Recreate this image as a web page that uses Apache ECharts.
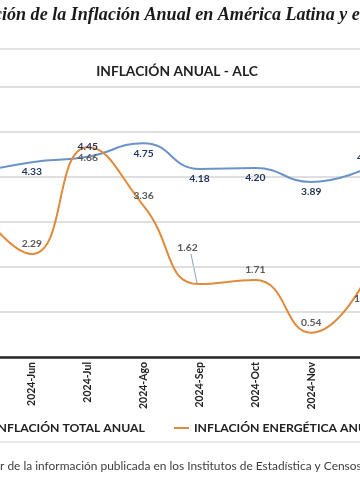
<!DOCTYPE html>
<html><head><meta charset="utf-8">
<script src="https://cdn.jsdelivr.net/npm/echarts@6/dist/echarts.min.js"></script>
<style>html,body{margin:0;padding:0;background:#fff}#c{width:360px;height:504px}</style>
</head><body><div id="c"></div>
<script>
const categories = ['2024-May','2024-Jun','2024-Jul','2024-Ago','2024-Sep','2024-Oct','2024-Nov','2024-Dic'];
const totalAnual = [4.08, 4.33, 4.45, 4.75, 4.18, 4.20, 3.89, 4.20];
const energeticaAnual = [3.40, 2.29, 4.66, 3.36, 1.62, 1.71, 0.54, 1.80];
const yTicks = [0, 1, 2, 3, 4, 5, 6];

const totalLabelPos = ['bottom','bottom','top','bottom','bottom','bottom','bottom','top'];
const energLabelPos = ['top','top','bottom','top','top','top','top','bottom'];

const ctx = document.createElement('canvas').getContext('2d');
function tw(text, font){ ctx.font = font; return ctx.measureText(text).width; }

// main title (cropped)
const titleFull = 'Evolución de la Inflación Anual en América Latina y el Caribe';
const titlePrefix = 'Evoluc';
const titleVisible = 'ión de la Inflación Anual en América Latina y e';
const tFam = '"Liberation Serif", "Times New Roman", serif';
let tfs = 18 * 358 / tw(titleVisible, 'italic bold 18px ' + tFam);
const titleLeft = 2 - tw(titlePrefix, 'italic bold ' + tfs + 'px ' + tFam);

// source (cropped)
const srcFull = 'Elaborado a partir de la información publicada en los Institutos de Estadística y Censos';
const srcPrefix = 'Elaborado a parti';
const srcVisible = 'r de la información publicada en los Institutos de Estadística y Censo';
const sFam = 'Lato, "Open Sans", sans-serif';
let sfs = 12 * 357 / tw(srcVisible, '12px ' + sFam);
const srcLeft = 0 - tw(srcPrefix, sfs + 'px ' + sFam);

// legend
const lFam = 'Lato, "Open Sans", sans-serif';
let lfs = 14 * 138 / tw('FLACIÓN TOTAL ANUAL', 'bold 14px ' + lFam);
const leg1TextX = 2 - tw('IN', 'bold ' + lfs + 'px ' + lFam);
const leg1Left = leg1TextX - 5 - 15;

const blue = '#6b93c9', orange = '#e08a3c';
const chart = echarts.init(document.getElementById('c'));
const lblFont = {fontFamily: 'Lato, sans-serif', fontWeight: 'bold', fontSize: 10.3};

chart.setOption({
  backgroundColor: '#ffffff',
  animation: false,
  title: {
    text: 'INFLACIÓN ANUAL - ALC',
    left: 172, top: 60, textAlign: 'center',
    textStyle: {fontFamily: lFam, fontWeight: 'bold', fontSize: 13.8, color: '#222'}
  },
  legend: [
    {data: [{name: 'INFLACIÓN TOTAL ANUAL', itemStyle: {color: blue, opacity: 1}}], left: leg1Left, top: 417, icon: 'rect', itemWidth: 15, itemHeight: 2,
     textStyle: {fontFamily: lFam, fontWeight: 'bold', fontSize: lfs, color: '#222'}},
    {data: [{name: 'INFLACIÓN ENERGÉTICA ANUAL', itemStyle: {color: orange, opacity: 1}}], left: 169, top: 417, icon: 'rect', itemWidth: 15, itemHeight: 2,
     textStyle: {fontFamily: lFam, fontWeight: 'bold', fontSize: lfs, color: '#222'}}
  ],
  grid: {left: -52, width: 447, top: 87, height: 270, containLabel: false, outerBoundsMode: 'none'},
  xAxis: {
    type: 'category', data: categories, boundaryGap: true,
    axisLine: {lineStyle: {color: '#262626', width: 2.5}},
    axisTick: {show: false},
    axisLabel: {rotate: 90, margin: 5, fontFamily: 'Lato, sans-serif', fontWeight: 'bold', fontSize: 10.5, color: '#222'}
  },
  yAxis: {
    type: 'value', min: yTicks[0], max: yTicks[yTicks.length - 1], interval: 1,
    axisLabel: {show: false}, axisLine: {show: false}, axisTick: {show: false},
    splitLine: {lineStyle: {color: '#d4d4d4', width: 1.5}}
  },
  series: [
    {
      name: 'INFLACIÓN TOTAL ANUAL', type: 'line', smooth: 0.5, showSymbol: true, symbol: 'circle', symbolSize: 0.01,
      data: totalAnual.map((v, i) => ({value: v, label: {position: totalLabelPos[i]}})),
      lineStyle: {color: blue, width: 2}, itemStyle: {color: blue},
      label: Object.assign({show: true, color: '#24365e', distance: 5, formatter: p => p.value.toFixed(2)}, lblFont)
    },
    {
      name: 'INFLACIÓN ENERGÉTICA ANUAL', type: 'line', smooth: 0.5, showSymbol: true, symbol: 'circle', symbolSize: 0.01,
      data: energeticaAnual.map((v, i) => {
        const d = {value: v, label: {position: energLabelPos[i]}};
        if (i === 4) d.label = {position: 'top', offset: [-12, -26]};
        if (i === 7) d.label = {position: 'bottom', offset: [-3, 13]};
        return d;
      }),
      lineStyle: {color: orange, width: 2}, itemStyle: {color: orange},
      label: Object.assign({show: true, color: '#595959', distance: 5, formatter: p => p.value.toFixed(2)}, lblFont)
    }
  ],
  graphic: [
    {type: 'text', left: titleLeft, top: 6, style: {text: titleFull, font: 'italic bold ' + tfs + 'px ' + tFam, fill: '#1a1a1a'}},
    {type: 'line', shape: {x1: 0, y1: 49, x2: 360, y2: 49}, style: {stroke: '#d9d9d9', lineWidth: 1.5}},
    {type: 'line', shape: {x1: 0, y1: 442, x2: 360, y2: 442}, style: {stroke: '#e0e0e0', lineWidth: 1.5}},
    {type: 'line', shape: {x1: 191, y1: 254, x2: 197, y2: 283}, style: {stroke: '#8aa0b8', lineWidth: 1}},
    {type: 'text', left: srcLeft, top: 460, style: {text: srcFull, font: sfs + 'px ' + sFam, fill: '#404040'}}
  ]
});
</script></body></html>
